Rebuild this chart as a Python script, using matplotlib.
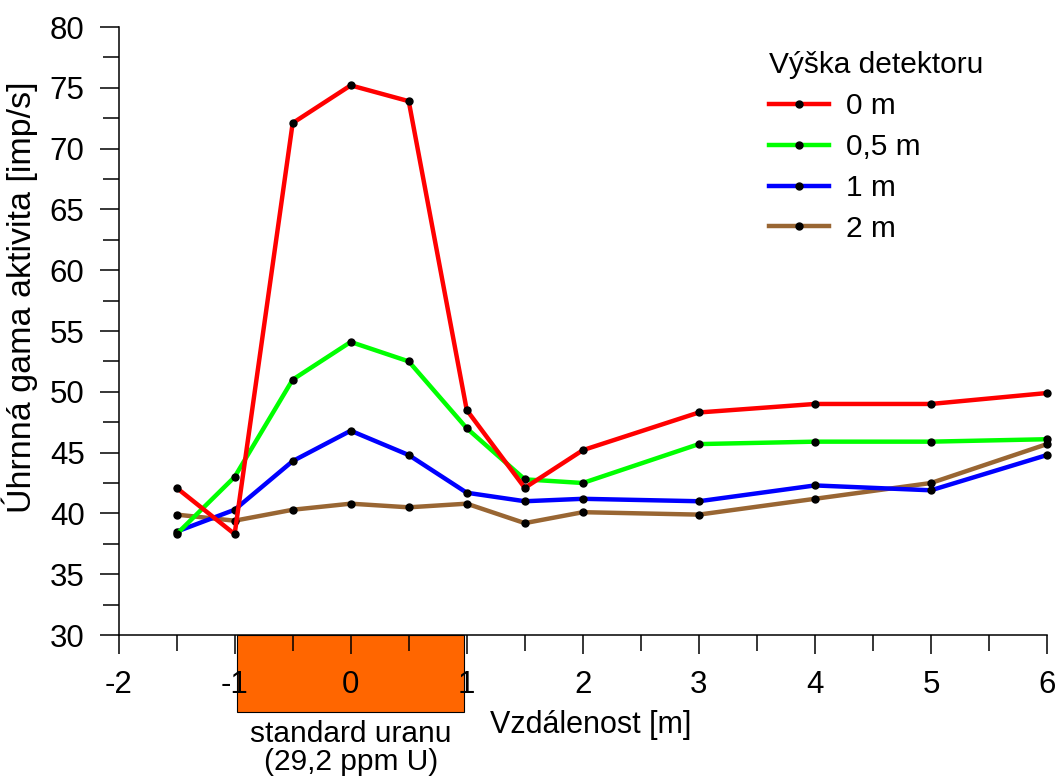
import matplotlib
matplotlib.use("Agg")
import matplotlib.pyplot as plt
from matplotlib.patches import Rectangle
from matplotlib.ticker import MultipleLocator

plt.rcParams["font.family"] = ["Liberation Sans", "DejaVu Sans"]
plt.rcParams["axes.unicode_minus"] = False

# --- measured gamma activity along the profile ---
distance = [-1.5, -1, -0.5, 0, 0.5, 1, 1.5, 2, 3, 4, 5, 6]
activity_0m = [42.1, 38.3, 72.1, 75.2, 73.9, 48.5, 42.1, 45.2, 48.3, 49.0, 49.0, 49.9]
activity_05m = [38.3, 43.0, 51.0, 54.1, 52.5, 47.0, 42.8, 42.5, 45.7, 45.9, 45.9, 46.1]
activity_1m = [38.5, 40.3, 44.3, 46.8, 44.8, 41.7, 41.0, 41.2, 41.0, 42.3, 41.9, 44.8]
activity_2m = [39.9, 39.4, 40.3, 40.8, 40.5, 40.8, 39.2, 40.1, 39.9, 41.2, 42.5, 45.7]

series_labels = ["0 m", "0,5 m", "1 m", "2 m"]
series_colors = ["#FF0000", "#00FF00", "#0000FF", "#996633"]
series_values = [activity_0m, activity_05m, activity_1m, activity_2m]

# uranium standard lies between -1 and 1 m
standard_span = (-1, 1)

FS = 21.5

fig = plt.figure(figsize=(10.56, 7.76), dpi=100)
ax = fig.add_axes([0.1123, 0.1817, 0.8792, 0.7835])

# draw lowest detector height first so the 0 m line ends up on top
handles = {}
for lab, col, vals, z in reversed(list(zip(series_labels, series_colors, series_values, [6, 5, 4, 3]))):
    line, = ax.plot(distance, vals, color=col, lw=3.2, marker="o", markersize=5,
                    markerfacecolor="black", markeredgecolor="black",
                    clip_on=False, zorder=z, label=lab)
    handles[lab] = line

ax.set_xlim(-2, 6)
ax.set_ylim(30, 80)
ax.xaxis.set_major_locator(MultipleLocator(1))
ax.xaxis.set_minor_locator(MultipleLocator(0.5))
ax.yaxis.set_major_locator(MultipleLocator(5))
ax.yaxis.set_minor_locator(MultipleLocator(2.5))

for side in ["top", "right"]:
    ax.spines[side].set_visible(False)
for side in ["left", "bottom"]:
    ax.spines[side].set_linewidth(1.1)

ax.tick_params(which="major", direction="out", length=13.5, width=1.1, labelsize=22.5)
ax.tick_params(which="minor", direction="out", length=11.5, width=1.1)
ax.tick_params(axis="y", which="major", pad=11)
ax.tick_params(axis="x", which="major", pad=12)

# orange box marking the standard below the axis
std = Rectangle((standard_span[0] + 0.02, -0.1266), standard_span[1] - standard_span[0] - 0.04, 0.1266,
                transform=ax.get_xaxis_transform(), clip_on=False,
                facecolor="#FF6600", edgecolor="black", lw=0.8, zorder=0.5)
ax.add_patch(std)
ax.text(sum(standard_span) / 2, -0.139, "standard uranu\n(29,2 ppm U)",
        transform=ax.get_xaxis_transform(), ha="center", va="top",
        fontsize=FS, linespacing=1.0, clip_on=False)

ax.set_xlabel("Vzdálenost [m]", fontsize=22)
ax.xaxis.set_label_coords(0.508, -0.123)
ax.xaxis.label.set_va("top")
ax.set_ylabel("Úhrnná gama aktivita [imp/s]", fontsize=24.5)
ax.yaxis.set_label_coords(-0.087, 0.556)

leg = ax.legend([handles[l] for l in series_labels], series_labels,
                title="Výška detektoru", loc="upper left",
                bbox_to_anchor=(0.6715, 1.004), frameon=False,
                fontsize=FS, title_fontsize=FS, alignment="left",
                handlelength=2.0, handletextpad=0.57, labelspacing=0.43)

fig.savefig("out.png", dpi=100)
